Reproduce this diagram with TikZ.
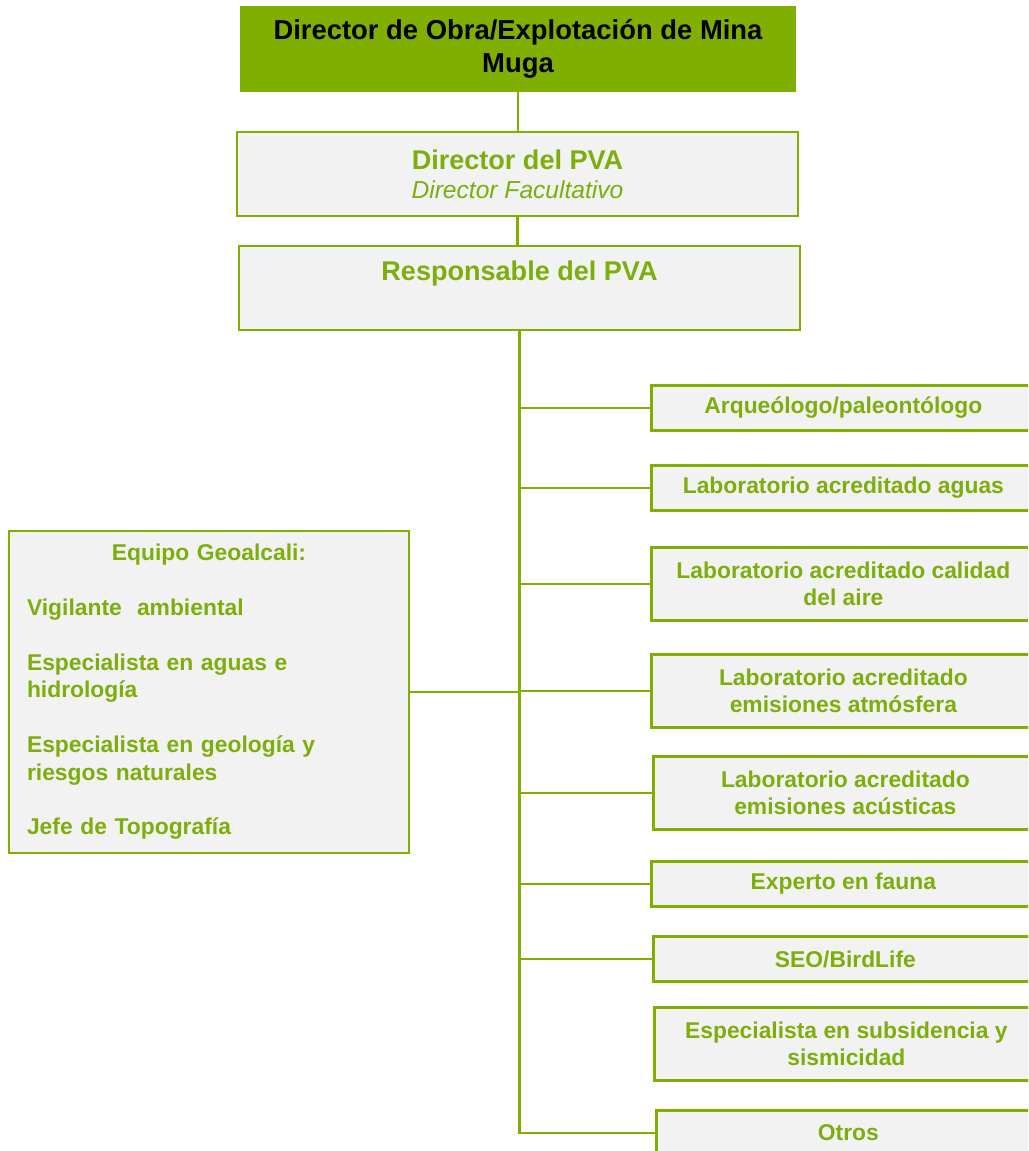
\documentclass[tikz,border=0pt]{standalone}
\usepackage{fontspec}
\setmainfont{Liberation Sans}
\definecolor{pvagreen}{RGB}{128,175,0}
\definecolor{pvatext}{RGB}{125,174,12}
\definecolor{boxgray}{RGB}{242,242,242}
\tikzset{
  box/.style = {draw = pvagreen, fill = boxgray, line width = 1.6pt,
    text = pvatext, align = center, inner sep = 0pt,
    font = \bfseries\fontsize{13}{15.6}\selectfont},
  headbox/.style = {box, minimum height = 1.68cm,
    font = \bfseries\fontsize{15.4}{17.6}\selectfont},
  sidebox/.style = {box, anchor = west, minimum width = 7.68cm,
    minimum height = .9cm},
  link/.style = {draw = pvagreen, line width = 1.2pt}
}
\begin{document}
\begin{tikzpicture}[x = .02cm, y = -.02cm]
  \useasboundingbox (0, 0) rectangle (1028, 1151);
  \clip (0, 0) rectangle (1028, 1151);
  \node[headbox, fill = pvagreen, draw = pvagreen, text = black,
  minimum width = 11.08cm, font = \bfseries\fontsize{15.6}{18.7}\selectfont]
  (mina) at (518, 49) {Director de Obra/Explotación de Mina\\Muga};
  \node[headbox, minimum width = 11.22cm] (director) at (517.5, 174)
  {Director del PVA\\[-1pt]{\mdseries\itshape\fontsize{14}{16}\selectfont
  Director Facultativo}};
  \node[headbox, minimum width = 11.22cm] (resp) at (519.5, 288)
  {Responsable del PVA\\[2pt]~};
  \node[sidebox] (arqueo) at (650, 408) {Arqueólogo/paleontólogo};
  \node[sidebox] (aguas) at (650, 488) {Laboratorio acreditado aguas};
  \node[sidebox, minimum height = 1.46cm] (aire) at (650, 584)
  {Laboratorio acreditado calidad\\del aire};
  \node[sidebox, minimum height = 1.46cm] (atmos) at (650, 691)
  {Laboratorio acreditado\\emisiones atmósfera};
  \node[sidebox, minimum height = 1.46cm] (acust) at (652, 793)
  {Laboratorio acreditado\\emisiones acústicas};
  \node[sidebox] (fauna) at (650, 884) {Experto en fauna};
  \node[sidebox] (seo) at (652, 959) {SEO/BirdLife};
  \node[sidebox, minimum height = 1.46cm] (subsid) at (653, 1044)
  {Especialista en subsidencia y\\sismicidad};
  \node[sidebox] (otros) at (655, 1133) {Otros};
  \node[box, minimum width = 8cm, minimum height = 6.44cm,
  text width = 7.28cm, align = left] (geo) at (209, 692)
  {\makebox[\linewidth]{Equipo Geoalcali:}\\[15.6pt]
  Vigilante\ \ ambiental\\[15.6pt]
  Especialista en aguas e\\hidrología\\[15.6pt]
  Especialista en geología y\\riesgos naturales\\[15.6pt]
  Jefe de Topografía};
  % connectors
  \draw[link] (mina) -- (mina |- director.north);
  \draw[link] (director.south) -- (director.south |- resp.north);
  \draw[link] (resp.south) -- (resp.south |- otros.west) -- (otros.west);
  \foreach \b in {arqueo, aguas, aire, atmos, acust, fauna, seo}
    \draw[link] (resp.south |- \b.west) -- (\b.west);
  \draw[link] (geo.east) -- (resp.south |- geo.east);
\end{tikzpicture}
\end{document}
